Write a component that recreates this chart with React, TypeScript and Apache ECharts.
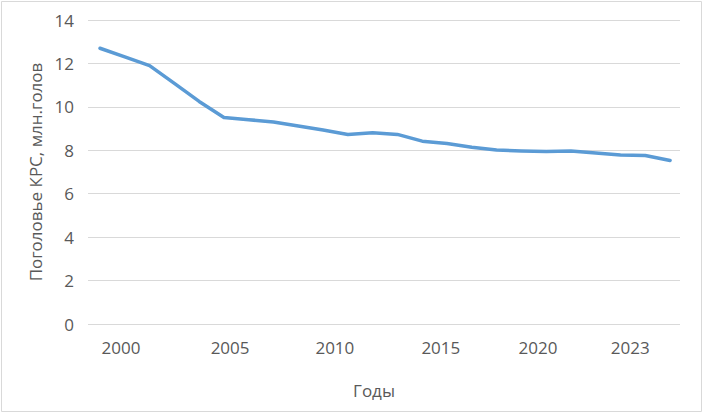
import React, { useEffect, useRef } from "react";
import * as echarts from "echarts";

const years = [2000, 2001, 2002, 2003, 2004, 2005, 2006, 2007, 2008, 2009, 2010, 2011, 2012, 2013, 2014, 2015, 2016, 2017, 2018, 2019, 2020, 2021, 2022, 2023];
const cattle = [12.7, 12.3, 11.9, 11.08, 10.25, 9.51, 9.41, 9.3, 9.12, 8.93, 8.73, 8.81, 8.73, 8.42, 8.31, 8.14, 8.01, 7.97, 7.94, 7.97, 7.88, 7.78, 7.76, 7.53];
const tickLabels = ["2000", "2005", "2010", "2015", "2020", "2023"];
// label placement along the bottom axis (fraction of plot width)
const tickLabelPlaces = [0.0557, 0.240, 0.417, 0.596, 0.760, 0.916];

const FONT = "'Open Sans', 'Noto Sans', sans-serif";

export default function App() {
  const ref = useRef<HTMLDivElement>(null);
  useEffect(() => {
    document.body.style.margin = "0";
    const chart = echarts.init(ref.current!, undefined, { renderer: "svg" });
    chart.setOption({
      animation: false,
      backgroundColor: "#ffffff",
      graphic: [
        {
          type: "rect",
          shape: { x: 1.5, y: 1.5, width: 700, height: 410 },
          style: { fill: "none", stroke: "#d9d9d9", lineWidth: 1 },
          silent: true,
          z: -1,
        },
      ],
      grid: { left: 88, right: 23, top: 20, bottom: 90 },
      xAxis: [
        {
          type: "value",
          min: 1999.516,
          max: 2023.4,
          show: false,
        },
        {
          type: "value",
          min: 0,
          max: 1,
          position: "bottom",
          name: "Годы",
          nameLocation: "middle",
          nameGap: 58,
          nameTextStyle: { color: "#595959", fontSize: 17, fontFamily: FONT, padding: [0, 20, 0, 0] },
          axisLine: { show: false },
          axisTick: { show: false },
          splitLine: { show: false },
          axisLabel: {
            customValues: tickLabelPlaces,
            formatter: (v: number) => {
              const i = tickLabelPlaces.findIndex((p) => Math.abs(p - v) < 1e-6);
              return i >= 0 ? tickLabels[i] : "";
            },
            color: "#595959",
            fontSize: 17,
            fontFamily: FONT,
            margin: 15,
            showMinLabel: true,
            showMaxLabel: true,
          },
        },
      ],
      yAxis: {
        type: "value",
        min: 0,
        max: 14,
        interval: 2,
        name: "Поголовье КРС, млн.голов",
        nameLocation: "middle",
        nameGap: 38,
        nameRotate: 90,
        nameTextStyle: { color: "#595959", fontSize: 17, fontFamily: FONT },
        axisLine: { show: false },
        axisTick: { show: false },
        axisLabel: { color: "#595959", fontSize: 17, fontFamily: FONT, margin: 14 },
        splitLine: { lineStyle: { color: "#d9d9d9", width: 1 } },
      },
      series: [
        {
          type: "line",
          xAxisIndex: 0,
          data: years.map((y, i) => [y, cattle[i]]),
          showSymbol: false,
          symbol: "none",
          lineStyle: { color: "#5b9bd5", width: 3.5, cap: "round", join: "round" },
          itemStyle: { color: "#5b9bd5" },
        },
      ],
    });
    return () => chart.dispose();
  }, []);
  return <div ref={ref} style={{ position: "absolute", left: 0, top: 0, width: 703, height: 414 }} />;
}
